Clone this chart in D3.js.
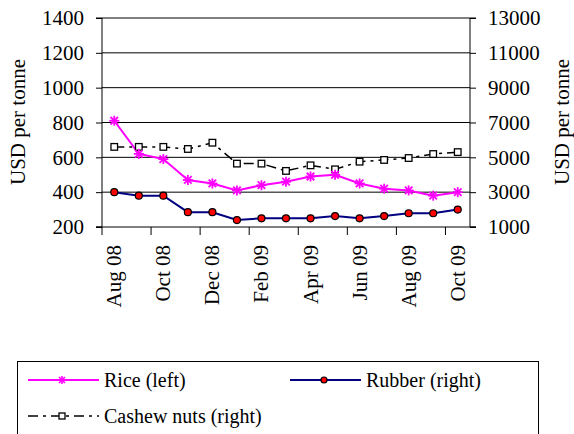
<!DOCTYPE html>
<html>
<head>
<meta charset="utf-8">
<script src="https://d3js.org/d3.v7.min.js"></script>
<style>
  body { margin: 0; background: #fff; }
  svg text { font-family: "Times New Roman", Times, "Liberation Serif", "DejaVu Serif", "Noto Serif", serif; }
  .grid line { stroke: #000; stroke-width: 1; }
</style>
</head>
<body>
<svg width="574" height="434"></svg>
<script>
// months shown on the category axis
var months = ["Aug 08","Sep 08","Oct 08","Nov 08","Dec 08","Jan 09","Feb 09","Mar 09",
              "Apr 09","May 09","Jun 09","Jul 09","Aug 09","Sep 09","Oct 09"];
// values, USD per tonne
var rice    = [810, 620, 590, 470, 450, 410, 440, 460, 490, 500, 450, 420, 410, 380, 400];
var rubber  = [3000, 2800, 2800, 1850, 1850, 1400, 1500, 1500, 1500, 1630, 1500, 1630, 1790, 1790, 2000];
var cashew  = [5600, 5600, 5600, 5480, 5840, 4640, 4640, 4220, 4540, 4310, 4750, 4850, 4960, 5190, 5300];
var leftTicks  = [200, 400, 600, 800, 1000, 1200, 1400];
var rightTicks = [1000, 3000, 5000, 7000, 9000, 11000, 13000];

var svg = d3.select("svg");
var pL = 102, pR = 470, pT = 18, pB = 227;

var x = d3.scaleBand().domain(months).range([pL, pR]).padding(0);
var yL = d3.scaleLinear().domain([200, 1400]).range([pB, pT]);
var yR = d3.scaleLinear().domain([1000, 13000]).range([pB, pT]);
var cx = function(d, i) { return x(months[i]) + x.bandwidth() / 2; };

// gridlines
svg.append("g").attr("class", "grid")
  .selectAll("line").data(leftTicks.slice(1)).enter().append("line")
  .attr("x1", pL).attr("x2", pR)
  .attr("y1", function(d) { return yL(d); }).attr("y2", function(d) { return yL(d); });

// left axis
var axL = svg.append("g").attr("transform", "translate(" + pL + ",0)")
  .call(d3.axisLeft(yL).tickValues(leftTicks).tickFormat(d3.format("d")).tickSize(6).tickPadding(12));
// right axis
var axR = svg.append("g").attr("transform", "translate(" + pR + ",0)")
  .call(d3.axisRight(yR).tickValues(rightTicks).tickFormat(d3.format("d")).tickSize(6).tickPadding(12));
axL.select(".domain").attr("stroke", "#000").attr("d", "M-6," + pT + "H0V" + pB + "H-6");
axR.select(".domain").attr("stroke", "#000").attr("d", "M6," + pT + "H0V" + pB + "H6");
[axL, axR].forEach(function(a) {
  a.attr("font-family", null);
  a.selectAll(".tick line").attr("stroke", "#000");
  a.selectAll(".tick text").attr("font-size", 21).attr("fill", "#000");
});

// bottom axis: tick every second month at the band boundary
var xTickMonths = months.filter(function(d, i) { return i % 2 === 0; });
var xa = svg.append("g").attr("transform", "translate(0," + pB + ")");
xa.append("line").attr("x1", pL - 6).attr("x2", pR + 6).attr("stroke", "#000");
xa.selectAll("line.t").data(xTickMonths).enter().append("line").attr("class", "t")
  .attr("x1", function(d) { return x(d); }).attr("x2", function(d) { return x(d); })
  .attr("y1", 0).attr("y2", 8).attr("stroke", "#000");
xa.selectAll("text").data(xTickMonths).enter().append("text")
  .attr("transform", function(d) {
    return "translate(" + (x(d) + x.bandwidth() / 2 + 7) + ",18) rotate(-90)";
  })
  .attr("text-anchor", "end").attr("font-size", 21)
  .text(function(d) { return d; });

// axis titles
svg.append("text").attr("transform", "translate(25,122) rotate(-90)")
  .attr("text-anchor", "middle").attr("font-size", 21).text("USD per tonne");
svg.append("text").attr("transform", "translate(569,122) rotate(-90)")
  .attr("text-anchor", "middle").attr("font-size", 21).text("USD per tonne");

// series
var lineL = d3.line().x(cx).y(function(d) { return yL(d); });
var lineR = d3.line().x(cx).y(function(d) { return yR(d); });

svg.append("path").datum(cashew).attr("d", lineR).attr("fill", "none")
  .attr("stroke", "#000").attr("stroke-width", 1.5).attr("stroke-dasharray", "10,5,3,5");
svg.append("path").datum(rubber).attr("d", lineR).attr("fill", "none")
  .attr("stroke", "#000080").attr("stroke-width", 2);
svg.append("path").datum(rice).attr("d", lineL).attr("fill", "none")
  .attr("stroke", "#ff00ff").attr("stroke-width", 2);

function star(g, px, py, s, w) {
  var p = [[-s, 0, s, 0], [0, -s, 0, s], [-s * 0.75, -s * 0.75, s * 0.75, s * 0.75], [-s * 0.75, s * 0.75, s * 0.75, -s * 0.75]];
  p.forEach(function(q) {
    g.append("line").attr("x1", px + q[0]).attr("y1", py + q[1]).attr("x2", px + q[2]).attr("y2", py + q[3])
      .attr("stroke", "#ff00ff").attr("stroke-width", w);
  });
}
function square(g, px, py, s) {
  g.append("rect").attr("x", px - s).attr("y", py - s).attr("width", 2 * s).attr("height", 2 * s)
    .attr("fill", "#fff").attr("stroke", "#000").attr("stroke-width", 1.3);
}
function dot(g, px, py, r) {
  g.append("circle").attr("cx", px).attr("cy", py).attr("r", r)
    .attr("fill", "#ff0000").attr("stroke", "#000").attr("stroke-width", 1.2);
}

var mk = svg.append("g");
cashew.forEach(function(d, i) { square(mk, cx(d, i), yR(d), 3.3); });
rubber.forEach(function(d, i) { dot(mk, cx(d, i), yR(d), 3.5); });
rice.forEach(function(d, i) { star(mk, cx(d, i), yL(d), 5, 1.8); });

// legend
var lg = svg.append("g");
lg.append("rect").attr("x", 17.5).attr("y", 361.5).attr("width", 521).attr("height", 90)
  .attr("fill", "#fff").attr("stroke", "#000").attr("stroke-width", 1);
var items = [
  { name: "Rice (left)", x: 28, y: 380, color: "#ff00ff", dash: null, m: "star" },
  { name: "Rubber (right)", x: 290, y: 380, color: "#000080", dash: null, m: "dot" },
  { name: "Cashew nuts (right)", x: 28, y: 416, color: "#000", dash: "10,5,3,5", m: "square" }
];
items.forEach(function(it) {
  lg.append("line").attr("x1", it.x).attr("x2", it.x + 71).attr("y1", it.y).attr("y2", it.y)
    .attr("stroke", it.color).attr("stroke-width", it.m === "square" ? 1.5 : 2)
    .attr("stroke-dasharray", it.dash);
  var mx = it.x + 34;
  if (it.m === "star") star(lg, mx, it.y, 4, 1.6);
  if (it.m === "dot") dot(lg, mx, it.y, 3);
  if (it.m === "square") square(lg, mx, it.y, 3);
  lg.append("text").attr("x", it.x + 76).attr("y", it.y + 7).attr("font-size", 20).text(it.name);
});
</script>
</body>
</html>
